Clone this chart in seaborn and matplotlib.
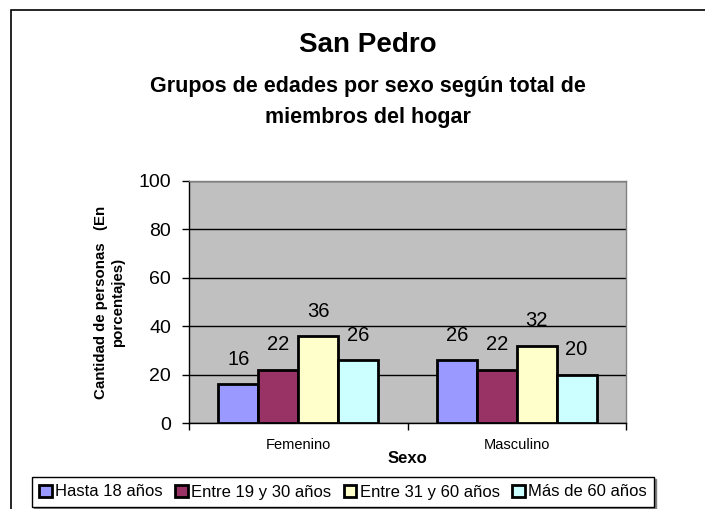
import matplotlib
matplotlib.use("Agg")
import matplotlib.pyplot as plt
from matplotlib.patches import Rectangle
import seaborn as sns
import pandas as pd

sexo = ["Femenino", "Masculino"]
grupos = ["Hasta 18 años", "Entre 19 y 30 años", "Entre 31 y 60 años", "Más de 60 años"]
femenino = [16, 22, 36, 26]
masculino = [26, 22, 32, 20]
colores = ["#9999FF", "#993366", "#FFFFCC", "#CCFFFF"]

df = pd.DataFrame({
    "Sexo": [sexo[0]] * 4 + [sexo[1]] * 4,
    "Grupo": grupos + grupos,
    "Porcentaje": femenino + masculino,
})

sns.set_style("white")
plt.rcParams["font.family"] = ["Liberation Sans", "DejaVu Sans"]
for k in ["text.color", "axes.labelcolor", "xtick.color", "ytick.color"]:
    plt.rcParams[k] = "black"

fig = plt.figure(figsize=(7.05, 5.09), dpi=100)
ax = fig.add_axes([189 / 705, 1 - 423 / 509, 437 / 705, 242 / 509])
ax.set_facecolor("#C0C0C0")

sns.barplot(data=df, x="Sexo", y="Porcentaje", hue="Grupo", order=sexo,
            hue_order=grupos, palette=colores, saturation=1, width=0.73,
            edgecolor="black", linewidth=2, ax=ax, zorder=3)

for c in ax.containers:
    ax.bar_label(c, padding=11, fontsize=14.5)

ax.set_ylim(0, 100)
ax.set_xlim(-0.5, 1.5)
ax.set_yticks([0, 20, 40, 60, 80, 100])
ax.yaxis.grid(True, color="black", linewidth=1, zorder=0)
ax.set_axisbelow(True)
ax.tick_params(axis="y", labelsize=14, length=5, width=1, direction="out", pad=8, left=True)
ax.set_xticks([0, 1])
ax.set_xticklabels(sexo, fontsize=10.5)
ax.set_xticks([-0.5, 0.5, 1.5], minor=True)
ax.tick_params(axis="x", which="major", length=0, pad=11)
ax.tick_params(axis="x", which="minor", length=5, width=1, direction="out", bottom=True)

for s in ["left", "bottom"]:
    ax.spines[s].set_color("black")
    ax.spines[s].set_linewidth(1)
for s in ["top", "right"]:
    ax.spines[s].set_color("#808080")
    ax.spines[s].set_linewidth(1)

ax.set_xlabel("Sexo", fontsize=12, fontweight="bold", va="center")
ax.xaxis.set_label_coords(0.5, -0.145)
ax.set_ylabel("Cantidad de personas   (En\nporcentajes)", fontsize=10.8,
              fontweight="bold", va="center", linespacing=1.3)
ax.yaxis.set_label_coords(-0.181, 0.5)

fig.text(0.522, 1 - 45 / 509, "San Pedro", ha="center", va="center",
         fontsize=20, fontweight="bold")
fig.text(0.522, 1 - 102 / 509, "Grupos de edades por sexo según total de\nmiembros del hogar",
         ha="center", va="center", fontsize=15.5, fontweight="bold", linespacing=1.6)

handles, labels = ax.get_legend_handles_labels()
ax.get_legend().remove()
leg = fig.legend(handles, labels, loc="center", bbox_to_anchor=(343 / 705, 1 - 492 / 509),
                 ncol=4, fontsize=12, frameon=True, fancybox=False, edgecolor="black",
                 handlelength=0.75, handleheight=0.75, handletextpad=0.2,
                 columnspacing=0.75, borderpad=0.45, borderaxespad=0,
                 shadow={"ox": 1.2, "oy": -1.2, "shade": 0.5, "alpha": 1})
leg.get_frame().set_linewidth(1)

fig.patches.append(Rectangle((11 / 705, -0.05), 1.0, 1 - 10 / 509 + 0.05,
                             transform=fig.transFigure, fill=False,
                             edgecolor="black", linewidth=1.2))

fig.savefig("out.png", dpi=100)
